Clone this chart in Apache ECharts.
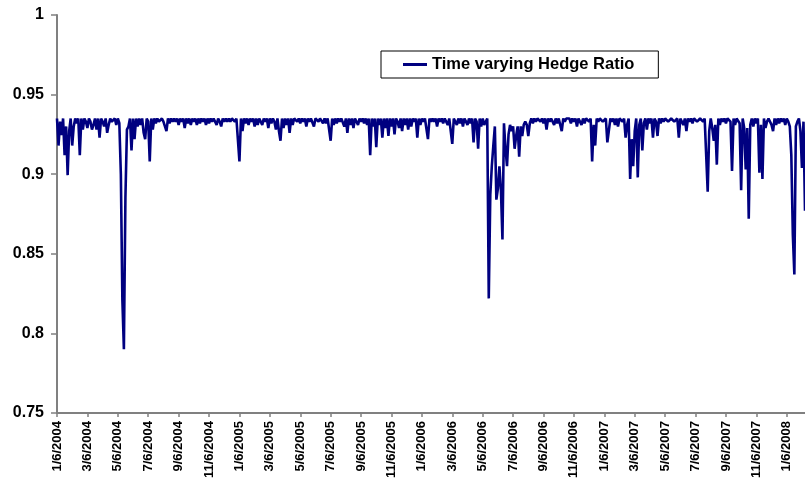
<!DOCTYPE html>
<html>
<head>
<meta charset="utf-8">
<script src="https://cdn.jsdelivr.net/npm/echarts@6/dist/echarts.min.js"></script>
<style>
html,body{margin:0;padding:0;background:#fff;}
#chart{width:805px;height:484px;}
</style>
</head>
<body>
<div id="chart"></div>
<script>
// Tick labels on the category axis (one every 20 points)
const tickLabels = [
  "1/6/2004","3/6/2004","5/6/2004","7/6/2004","9/6/2004","11/6/2004",
  "1/6/2005","3/6/2005","5/6/2005","7/6/2005","9/6/2005","11/6/2005",
  "1/6/2006","3/6/2006","5/6/2006","7/6/2006","9/6/2006","11/6/2006",
  "1/6/2007","3/6/2007","5/6/2007","7/6/2007","9/6/2007","11/6/2007",
  "1/6/2008"
];
const pointsPerTick = 20;
const seriesName = "Time varying Hedge Ratio";
const yTicks = [0.75, 0.8, 0.85, 0.9, 0.95, 1];

// Time varying hedge ratio
const hedgeRatio = [
0.935,0.918,0.933,0.9245,0.935,0.912,0.930,0.8994,0.927,0.935,
0.918,0.930,0.935,0.932,0.935,0.912,0.935,0.928,0.935,0.933,
0.929,0.935,0.933,0.928,0.931,0.935,0.928,0.935,0.923,0.935,
0.933,0.930,0.935,0.926,0.931,0.935,0.933,0.932,0.935,0.931,
0.935,0.932,0.900,0.821,0.790,0.885,0.928,0.930,0.935,0.915,
0.935,0.922,0.935,0.930,0.935,0.931,0.935,0.926,0.922,0.935,
0.933,0.908,0.935,0.928,0.935,0.932,0.935,0.933,0.932,0.935,
0.933,0.930,0.927,0.935,0.932,0.935,0.933,0.935,0.933,0.935,
0.931,0.935,0.933,0.935,0.929,0.935,0.932,0.935,0.931,0.935,
0.933,0.935,0.931,0.935,0.932,0.935,0.933,0.935,0.931,0.935,
0.932,0.935,0.933,0.935,0.935,0.931,0.935,0.933,0.930,0.935,
0.933,0.935,0.933,0.935,0.933,0.935,0.935,0.933,0.935,0.935,
0.908,0.935,0.927,0.935,0.932,0.935,0.931,0.935,0.933,0.935,
0.930,0.935,0.931,0.935,0.933,0.931,0.935,0.933,0.935,0.929,
0.935,0.932,0.935,0.933,0.928,0.935,0.927,0.921,0.935,0.929,
0.935,0.931,0.935,0.926,0.935,0.931,0.935,0.935,0.933,0.935,
0.932,0.935,0.933,0.935,0.930,0.935,0.933,0.935,0.935,0.930,
0.935,0.935,0.933,0.935,0.935,0.932,0.935,0.932,0.935,0.935,
0.921,0.935,0.931,0.935,0.932,0.935,0.933,0.935,0.935,0.930,
0.935,0.926,0.935,0.931,0.935,0.929,0.935,0.935,0.931,0.935,
0.933,0.935,0.932,0.935,0.931,0.935,0.912,0.935,0.930,0.935,
0.917,0.935,0.931,0.935,0.923,0.935,0.929,0.935,0.924,0.935,
0.930,0.935,0.925,0.935,0.933,0.929,0.935,0.927,0.935,0.931,
0.935,0.928,0.935,0.930,0.935,0.933,0.935,0.923,0.935,0.931,
0.935,0.933,0.935,0.935,0.922,0.935,0.933,0.935,0.933,0.935,
0.930,0.935,0.933,0.935,0.932,0.935,0.935,0.931,0.935,0.935,
0.919,0.935,0.933,0.931,0.935,0.932,0.935,0.930,0.935,0.933,
0.931,0.935,0.932,0.935,0.920,0.935,0.933,0.916,0.935,0.930,
0.935,0.931,0.930,0.935,0.822,0.887,0.905,0.918,0.930,0.884,
0.891,0.905,0.890,0.859,0.932,0.916,0.905,0.925,0.931,0.927,
0.930,0.916,0.924,0.930,0.911,0.930,0.924,0.931,0.933,0.931,
0.924,0.932,0.935,0.932,0.935,0.933,0.935,0.935,0.933,0.935,
0.932,0.935,0.928,0.935,0.933,0.935,0.935,0.931,0.935,0.932,
0.935,0.935,0.927,0.935,0.933,0.935,0.935,0.935,0.932,0.935,
0.933,0.935,0.930,0.935,0.935,0.931,0.935,0.932,0.935,0.935,
0.933,0.935,0.908,0.931,0.918,0.935,0.933,0.935,0.935,0.933,
0.932,0.935,0.920,0.920,0.935,0.933,0.935,0.931,0.935,0.930,
0.935,0.935,0.933,0.935,0.923,0.931,0.935,0.897,0.922,0.905,
0.927,0.935,0.898,0.931,0.935,0.915,0.932,0.935,0.928,0.935,
0.932,0.935,0.923,0.935,0.933,0.924,0.935,0.932,0.935,0.933,
0.935,0.935,0.933,0.932,0.935,0.935,0.933,0.933,0.935,0.923,
0.935,0.935,0.931,0.935,0.927,0.935,0.933,0.935,0.932,0.935,
0.935,0.933,0.932,0.935,0.935,0.933,0.935,0.935,0.889,0.927,
0.935,0.929,0.921,0.931,0.906,0.935,0.931,0.935,0.933,0.935,
0.932,0.935,0.935,0.933,0.902,0.935,0.931,0.935,0.935,0.932,
0.890,0.935,0.929,0.903,0.929,0.872,0.931,0.935,0.930,0.935,
0.932,0.935,0.901,0.931,0.897,0.935,0.929,0.933,0.935,0.935,
0.931,0.927,0.935,0.931,0.935,0.932,0.935,0.933,0.935,0.931,
0.935,0.933,0.930,0.912,0.862,0.837,0.930,0.933,0.935,0.927,
0.904,0.933,0.877
];

const categories = hedgeRatio.map((_, i) => String(i));
const FONT = "'Liberation Sans', Arial, sans-serif";
const isTick = (i) => i % pointsPerTick === 0;

const chart = echarts.init(document.getElementById('chart'), null, {renderer: 'canvas'});
chart.setOption({
  animation: false,
  backgroundColor: '#ffffff',
  grid: {left: 57, right: 0, top: 15, bottom: 71, containLabel: false},
  legend: {
    data: [{name: seriesName, icon: 'rect'}],
    left: 381, top: 51,
    itemWidth: 24, itemHeight: 3,
    padding: [5, 24, 5, 22],
    borderColor: '#000000', borderWidth: 1,
    backgroundColor: '#ffffff',
    textStyle: {fontFamily: FONT, fontWeight: 'bold', fontSize: 16.5, color: '#000'}
  },
  xAxis: {
    type: 'category',
    data: categories,
    boundaryGap: false,
    axisLine: {lineStyle: {color: '#808080', width: 2}},
    axisTick: {show: true, interval: (i) => isTick(i), length: 4, lineStyle: {color: '#808080', width: 1.5}},
    axisLabel: {
      interval: (i) => isTick(i),
      rotate: 90,
      margin: 8,
      fontFamily: FONT, fontWeight: 'bold', fontSize: 13, color: '#000',
      formatter: (v, i) => tickLabels[Math.round(i / pointsPerTick)] || ''
    },
    splitLine: {show: false}
  },
  yAxis: {
    type: 'value',
    min: yTicks[0], max: yTicks[yTicks.length - 1], interval: 0.05,
    axisLine: {show: true, lineStyle: {color: '#808080', width: 2}},
    axisTick: {show: true, length: 6, lineStyle: {color: '#808080', width: 1.5}},
    axisLabel: {
      margin: 13,
      fontFamily: FONT, fontWeight: 'bold', fontSize: 16, color: '#000',
      formatter: (v) => String(parseFloat(v.toFixed(2)))
    },
    splitLine: {show: false}
  },
  series: [{
    name: seriesName,
    type: 'line',
    data: hedgeRatio,
    symbol: 'none',
    showSymbol: false,
    lineStyle: {color: '#000080', width: 2.6},
    itemStyle: {color: '#000080'}
  }]
});
</script>
</body>
</html>
